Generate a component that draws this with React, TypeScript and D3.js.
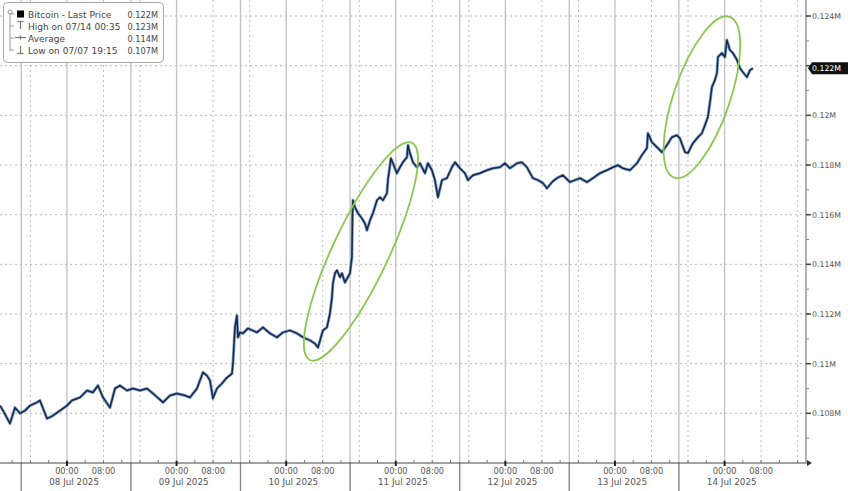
import React from "react";
import * as d3 from "d3";

const times = [
  "07-07 09:20","07-07 10:00","07-07 11:31","07-07 12:37","07-07 13:43","07-07 14:48","07-07 15:54","07-07 17:26","07-07 18:05","07-07 19:37","07-07 20:56","07-07 22:28",
  "07-08 00:00","07-08 01:05","07-08 02:51","07-08 04:23","07-08 05:41","07-08 06:47","07-08 07:53","07-08 09:25","07-08 10:31","07-08 11:36","07-08 13:08","07-08 14:27","07-08 15:59","07-08 17:31","07-08 18:50","07-08 21:01","07-08 22:33",
  "07-09 00:05","07-09 01:50","07-09 02:56","07-09 04:28","07-09 05:47","07-09 06:39","07-09 07:19","07-09 07:58","07-09 08:50","07-09 09:56","07-09 11:02","07-09 12:08","07-09 12:21","07-09 12:47","07-09 13:13","07-09 13:26","07-09 13:53","07-09 14:32","07-09 15:38","07-09 17:36","07-09 18:55","07-09 20:27","07-09 21:59","07-09 23:18",
  "07-10 00:50","07-10 02:22","07-10 03:41","07-10 05:13","07-10 06:18","07-10 06:58","07-10 08:03","07-10 08:56","07-10 09:35","07-10 10:02","07-10 10:14","07-10 10:41","07-10 11:07","07-10 11:47","07-10 12:13","07-10 12:52","07-10 13:58","07-10 14:24","07-10 14:31","07-10 14:37","07-10 15:04","07-10 15:43","07-10 16:35","07-10 17:15","07-10 17:41","07-10 18:21","07-10 19:00","07-10 19:53","07-10 20:32","07-10 21:11","07-10 22:04","07-10 22:17","07-10 22:56","07-10 23:23",
  "07-11 00:15","07-11 00:55","07-11 01:34","07-11 02:27","07-11 02:40","07-11 03:06","07-11 03:46","07-11 04:38","07-11 05:18","07-11 06:23","07-11 07:03","07-11 07:55","07-11 08:35","07-11 09:14","07-11 10:07","07-11 11:12","07-11 12:18","07-11 12:58","07-11 14:03","07-11 15:09","07-11 15:48","07-11 16:54","07-11 18:26","07-11 19:58","07-11 21:17","07-11 22:49","07-11 23:54",
  "07-12 01:00","07-12 02:32","07-12 03:38","07-12 04:43","07-12 06:02","07-12 07:08","07-12 08:14","07-12 09:06","07-12 10:12","07-12 11:17","07-12 12:37","07-12 14:08","07-12 15:14","07-12 16:20","07-12 17:52","07-12 19:10","07-12 20:43","07-12 22:14","07-12 23:33",
  "07-13 00:39","07-13 01:44","07-13 03:16","07-13 04:49","07-13 05:54","07-13 07:00","07-13 07:13","07-13 08:05","07-13 09:11","07-13 10:17","07-13 11:23","07-13 12:28","07-13 13:34","07-13 14:13","07-13 15:19","07-13 15:59","07-13 17:04","07-13 18:10","07-13 19:02","07-13 19:42","07-13 20:21","07-13 20:47","07-13 21:14","07-13 21:53","07-13 22:20","07-13 22:33","07-13 23:25",
  "07-14 00:05","07-14 00:31","07-14 01:10","07-14 01:50","07-14 02:43","07-14 03:22","07-14 04:01","07-14 04:54","07-14 05:34","07-14 06:13"
];

const prices = [
  108310,108110,107590,108230,108000,108110,108310,108440,108520,107790,107910,108110,
  108310,108520,108640,108920,108840,109120,108640,108230,109000,109120,108920,109000,108920,109000,108800,108440,108720,
  108800,108720,108640,109000,109650,109520,109320,108600,109000,109200,109440,109600,110010,111460,111940,111060,111260,111220,111420,111260,111460,111220,111060,111260,
  111340,111220,111060,110940,110810,110650,111340,111460,112020,112670,113230,113640,113760,113480,113640,113270,113640,114280,115900,116580,116300,116060,115850,115650,115370,115770,116060,116580,116700,116580,116860,117390,118270,118070,
  117670,117910,118110,118310,118800,118480,118110,117910,118070,117670,118070,117790,117390,116700,117390,117470,117910,118110,117870,117670,117390,117590,117670,117790,117870,117910,118070,
  117870,118070,118110,117910,117470,117390,117270,117060,117310,117470,117590,117310,117390,117470,117310,117470,117670,117790,117910,
  117990,117870,117790,118070,118400,118680,119280,118920,118720,118520,118800,119120,119200,119080,118520,118480,118880,119120,119280,119600,119930,120490,121140,121420,121700,122350,122510,
  122350,123030,122630,122510,122230,121900,121740,121540,121820,121900
];

const yTickValues = [108000, 110000, 112000, 114000, 116000, 118000, 120000, 122000, 124000];
const yTickLabels = ["0.108M", "0.11M", "0.112M", "0.114M", "0.116M", "0.118M", "0.12M", "0.122M", "0.124M"];

const legendLabels = ["Bitcoin - Last Price", "High on 07/14 00:35", "Average", "Low on 07/07 19:15"];
const legendValues = ["0.122M", "0.123M", "0.114M", "0.107M"];
const lastPriceLabel = "0.122M";

// annotation ellipses: center in data space
const ellipseCenters = ["07-10 16:22", "07-13 19:02"];
const ellipsePrices = [114520, 120730];
const ellipseRx = [120, 85];
const ellipseRy = [28, 28];
const ellipseAngle = [-64.8, -71];

const parse = d3.timeParse("%Y-%m-%d %H:%M");
const p = (s: string) => parse("2025-" + s) as Date;

const W = 848, H = 491;
const PLOT_R = 806, AXIS_Y = 463;

export default function App() {
  const x = d3.scaleTime().domain([p("07-07 09:20"), p("07-14 17:50")]).range([0, PLOT_R]);
  const y = d3.scaleLinear().domain([106000, 124645]).range([AXIS_Y, 0]);

  const data = times.map((t, i) => ({ t: p(t), v: prices[i] }));
  const line = d3.line<{ t: Date; v: number }>().x(d => x(d.t)).y(d => y(d.v));
  const path = line(data) || "";

  const [d0, d1] = x.domain();
  const days = d3.timeDay.range(d3.timeDay.floor(d0), d3.timeDay.offset(d3.timeDay.ceil(d1), 1));
  const inDom = (t: Date) => t >= d0 && t <= d1;

  const midnights = days.filter(inDom);
  const dotted: Date[] = [];
  const seps: Date[] = [];
  days.forEach(d => {
    [8, 16].forEach(h => { const t = d3.timeHour.offset(d, h); if (inDom(t)) dotted.push(t); });
    const s = d3.timeHour.offset(d, 14);
    if (inDom(s) && d3.timeHour.offset(s, 10) < d1) seps.push(s);
  });
  const minorTicks = d3.timeHour.every(4)!.range(d0, d1);
  const fmtTime = d3.timeFormat("%H:%M");
  const fmtDate = d3.timeFormat("%d %b %Y");

  const minorY = d3.range(107000, 124646, 1000);

  const font = "'DejaVu Sans', sans-serif";
  const lastY = y(prices[prices.length - 1]);

  return (
    <svg width={W} height={H} style={{ position: "absolute", left: 0, top: 0, background: "#fff" }} fontFamily={font}>
      <rect x={0} y={0} width={W} height={H} fill="#fff" />
      {/* horizontal gridlines */}
      {yTickValues.map(v => (
        <line key={"hg" + v} x1={0} x2={PLOT_R} y1={y(v)} y2={y(v)} stroke="#b8b8b8" strokeWidth={1} strokeDasharray="2,3" />
      ))}
      {/* vertical dotted */}
      {dotted.map(t => (
        <line key={"vd" + +t} x1={x(t)} x2={x(t)} y1={0} y2={AXIS_Y} stroke="#bdbdbd" strokeWidth={1} strokeDasharray="2,3" />
      ))}
      {/* vertical solid at midnight */}
      {midnights.map(t => (
        <line key={"vm" + +t} x1={x(t)} x2={x(t)} y1={0} y2={AXIS_Y} stroke="#c4c4c4" strokeWidth={1.4} />
      ))}
      {/* separators */}
      {seps.map(t => (
        <line key={"vs" + +t} x1={x(t)} x2={x(t)} y1={0} y2={H} stroke="#c4c4c4" strokeWidth={1.4} />
      ))}
      {seps.map(t => (
        <line key={"vsa" + +t} x1={x(t)} x2={x(t)} y1={AXIS_Y} y2={H} stroke="#8a8a8a" strokeWidth={1.2} />
      ))}

      {/* price line */}
      <path d={path} fill="none" stroke="#5a88c2" strokeWidth={3} strokeLinejoin="round" opacity={0.8} />
      <path d={path} fill="none" stroke="#1a2845" strokeWidth={1.5} strokeLinejoin="round" />

      {/* ellipses */}
      {ellipseCenters.map((c, i) => (
        <ellipse key={"el" + i} cx={0} cy={0} rx={ellipseRx[i]} ry={ellipseRy[i]} fill="none" stroke="#8cc751" strokeWidth={1.8}
          transform={`translate(${x(p(c))},${y(ellipsePrices[i])}) rotate(${ellipseAngle[i]})`} />
      ))}

      {/* x axis */}
      <line x1={0} x2={PLOT_R + 2} y1={AXIS_Y} y2={AXIS_Y} stroke="#444" strokeWidth={1} />
      <path d={`M${PLOT_R + 1},${AXIS_Y - 3} L${PLOT_R + 6},${AXIS_Y} L${PLOT_R + 1},${AXIS_Y + 3} Z`} fill="#333" />
      {minorTicks.map(t => (
        <line key={"mt" + +t} x1={x(t)} x2={x(t)} y1={AXIS_Y - 3} y2={AXIS_Y} stroke="#777" strokeWidth={1} />
      ))}
      {midnights.map(t => (
        <line key={"Mt" + +t} x1={x(t)} x2={x(t)} y1={AXIS_Y - 2} y2={AXIS_Y + 3} stroke="#222" strokeWidth={2} />
      ))}
      {days.filter(d => inDom(d) && d3.timeHour.offset(d, 8) < d1).map(d => (
        <g key={"xl" + +d} fontSize={8.2} fill="#555">
          <text x={x(d)} y={474} textAnchor="middle">{fmtTime(d)}</text>
          <text x={x(d3.timeHour.offset(d, 8))} y={474} textAnchor="middle">{fmtTime(d3.timeHour.offset(d, 8))}</text>
        </g>
      ))}
      {days.filter(d => inDom(d)).map(d => {
        const a = Math.max(0, x(d3.timeHour.offset(d, -10)));
        const b = Math.min(PLOT_R, x(d3.timeHour.offset(d, 14)));
        return (
          <text key={"dl" + +d} x={(a + b) / 2 - 2} y={485} textAnchor="middle" fontSize={8.8} fill="#555">{fmtDate(d)}</text>
        );
      })}

      {/* y axis */}
      <line x1={PLOT_R} x2={PLOT_R} y1={0} y2={AXIS_Y} stroke="#999" strokeWidth={1.5} />
      {minorY.map(v => (
        <line key={"my" + v} x1={PLOT_R} x2={PLOT_R + 3} y1={y(v)} y2={y(v)} stroke="#888" strokeWidth={1} />
      ))}
      {yTickValues.map((v, i) => (
        <g key={"yt" + v}>
          <line x1={PLOT_R} x2={PLOT_R + 5} y1={y(v)} y2={y(v)} stroke="#444" strokeWidth={1.5} />
          {Math.abs(y(v) - lastY) > 9 && (
            <text x={812} y={y(v) + 3} fontSize={7.8} fill="#555">{yTickLabels[i]}</text>
          )}
        </g>
      ))}
      {/* last price tag */}
      <path d={`M${PLOT_R + 2},${lastY} L${PLOT_R + 6},${lastY - 6} L${W},${lastY - 6} L${W},${lastY + 6} L${PLOT_R + 6},${lastY + 6} Z`} fill="#111" />
      <text x={812} y={lastY + 3} fontSize={7.8} fill="#fff">{lastPriceLabel}</text>

      {/* legend */}
      <rect x={3.5} y={2.5} width={160} height={60} rx={4} fill="#fff" stroke="#a8a8a8" strokeWidth={1} />
      <line x1={10} x2={10} y1={13} y2={51} stroke="#999" strokeWidth={1} />
      <circle cx={10} cy={12} r={2} fill="#fff" stroke="#999" strokeWidth={1} />
      {[14, 26, 38, 50].map(ry => (
        <line key={"lc" + ry} x1={10} x2={14} y1={ry} y2={ry} stroke="#999" strokeWidth={1} />
      ))}
      <rect x={17} y={10.5} width={7} height={7} fill="#000" />
      <line x1={17.5} x2={23.5} y1={21.5} y2={21.5} stroke="#777" strokeWidth={1.2} />
      <line x1={20.5} x2={20.5} y1={21.5} y2={29} stroke="#777" strokeWidth={1.2} />
      <line x1={15} x2={26} y1={37.5} y2={37.5} stroke="#777" strokeWidth={1.2} />
      <line x1={20.5} x2={20.5} y1={35.5} y2={39.5} stroke="#777" strokeWidth={1.2} />
      <line x1={20.5} x2={20.5} y1={46} y2={53.5} stroke="#777" strokeWidth={1.2} />
      <line x1={17.5} x2={23.5} y1={53.5} y2={53.5} stroke="#777" strokeWidth={1.2} />
      {legendLabels.map((l, i) => (
        <g key={"lg" + i} fill="#444">
          <text x={28} y={17.5 + i * 12.2} fontSize={9}>{l}</text>
          <text x={158} y={17.5 + i * 12.2} fontSize={8.2} textAnchor="end">{legendValues[i]}</text>
        </g>
      ))}
    </svg>
  );
}
